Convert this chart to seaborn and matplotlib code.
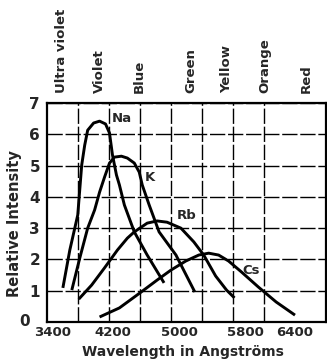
import numpy as np
import pandas as pd
import seaborn as sns
import matplotlib.pyplot as plt
import matplotlib.transforms as mtrans
from matplotlib.ticker import FixedLocator

# wavelength (Angstrom) / relative intensity
na_wl = [3592, 3676, 3772, 3820, 3856, 3892, 3964, 4036, 4108, 4156, 4192, 4240, 4276, 4336, 4456, 4612, 4816]
na_int = [1.09, 2.30, 3.42, 5.02, 5.65, 6.13, 6.36, 6.42, 6.33, 6.04, 5.34, 4.70, 4.38, 3.74, 2.88, 2.14, 1.25]

k_wl = [3700, 3796, 3892, 3976, 4036, 4096, 4156, 4216, 4300, 4372, 4456, 4516, 4552, 4636, 4756, 4960, 5188]
k_int = [1.02, 2.04, 3.00, 3.58, 4.15, 4.63, 5.08, 5.27, 5.30, 5.24, 5.08, 4.79, 4.38, 3.74, 2.88, 2.14, 0.96]

rb_wl = [3784, 3940, 4096, 4252, 4372, 4456, 4612, 4732, 4852, 5020, 5176, 5296, 5440, 5572, 5668]
rb_int = [0.73, 1.18, 1.73, 2.30, 2.68, 2.88, 3.16, 3.23, 3.19, 3.00, 2.56, 2.14, 1.47, 1.02, 0.77]

cs_wl = [4036, 4276, 4540, 4732, 4900, 5080, 5236, 5356, 5476, 5596, 5752, 5956, 6172, 6400]
cs_int = [0.16, 0.45, 0.96, 1.34, 1.66, 1.95, 2.14, 2.20, 2.14, 1.95, 1.60, 1.12, 0.64, 0.22]

metals = ["Na", "K", "Rb", "Cs"]
label_pos = {"Na": (4300, 6.52), "K": (4648, 4.63), "Rb": (5092, 3.42), "Cs": (5872, 1.66)}

bands = ["Ultra violet", "Violet", "Blue", "Green", "Yellow", "Orange", "Red"]
band_wl = [3580, 4036, 4516, 5140, 5572, 6040, 6532]

xtick_vals = [3400, 4200, 5000, 5800, 6400]
ytick_vals = [0, 1, 2, 3, 4, 5, 6, 7]

frames = []
for name, wl, it in zip(metals, [na_wl, k_wl, rb_wl, cs_wl], [na_int, k_int, rb_int, cs_int]):
    frames.append(pd.DataFrame({"wl": wl, "intensity": it, "metal": name}))
df = pd.concat(frames, ignore_index=True)

sns.set_style("white")
plt.rcParams["font.family"] = ["DejaVu Sans"]

fig = plt.figure(figsize=(3.27, 3.61), dpi=100)
ax = fig.add_axes([47 / 327, 1 - 322 / 361, 279 / 327, 219 / 361])

sns.lineplot(data=df, x="wl", y="intensity", hue="metal", units="metal", estimator=None,
             palette=["black"] * 4, legend=False, lw=2.1, sort=False, ax=ax,
             solid_joinstyle="round", solid_capstyle="butt")

ax.set_xlim(3400, 3400 + 9 * 375)
ax.set_ylim(0, 7)

# grid cells are 375 A wide, labels sit elsewhere
ax.xaxis.set_major_locator(FixedLocator(xtick_vals))
ax.xaxis.set_minor_locator(FixedLocator([3400 + 375 * i for i in range(10)]))
ax.yaxis.set_major_locator(FixedLocator(ytick_vals))
ax.grid(False)
ax.grid(True, which="minor", axis="x", color="black", lw=1.0, ls=(0, (11, 2)))
ax.grid(True, which="major", axis="y", color="black", lw=1.0, ls=(0, (11, 2)))
ax.tick_params(which="both", length=0)
ax.tick_params(axis="x", pad=3, labelsize=9.5)
ax.tick_params(axis="y", pad=5, labelsize=11)
for lab in ax.get_xticklabels() + ax.get_yticklabels():
    lab.set_fontweight("bold")

# the "0" sits left of the corner, the "3400" is nudged right
ylab0 = ax.yaxis.get_major_ticks()[0].label1
ylab0.set_transform(ylab0.get_transform() + mtrans.ScaledTranslation(-10 / 100, 2 / 100, fig.dpi_scale_trans))
xlab0 = ax.xaxis.get_major_ticks()[0].label1
xlab0.set_transform(xlab0.get_transform() + mtrans.ScaledTranslation(6 / 100, 0, fig.dpi_scale_trans))

for sp in ax.spines.values():
    sp.set_visible(True)
    sp.set_color("black")
    sp.set_linewidth(1.6)

ax.set_xlabel("Wavelength in Angströms", fontsize=10, fontweight="bold")
ax.set_ylabel("Relative Intensity", fontsize=10.5, fontweight="bold")
ax.xaxis.set_label_coords(0.487, -0.107)
ax.yaxis.set_label_coords(-0.088, 0.45)

for name in metals:
    x, y = label_pos[name]
    ax.text(x, y, name, fontsize=9.5, fontweight="bold", ha="center", va="center")

trans = ax.get_xaxis_transform()
for name, wl in zip(bands, band_wl):
    ax.text(wl, 1.045, name, rotation=90, ha="center", va="bottom", transform=trans,
            fontsize=9.5, fontweight="bold")

fig.savefig("out.png", dpi=100)
